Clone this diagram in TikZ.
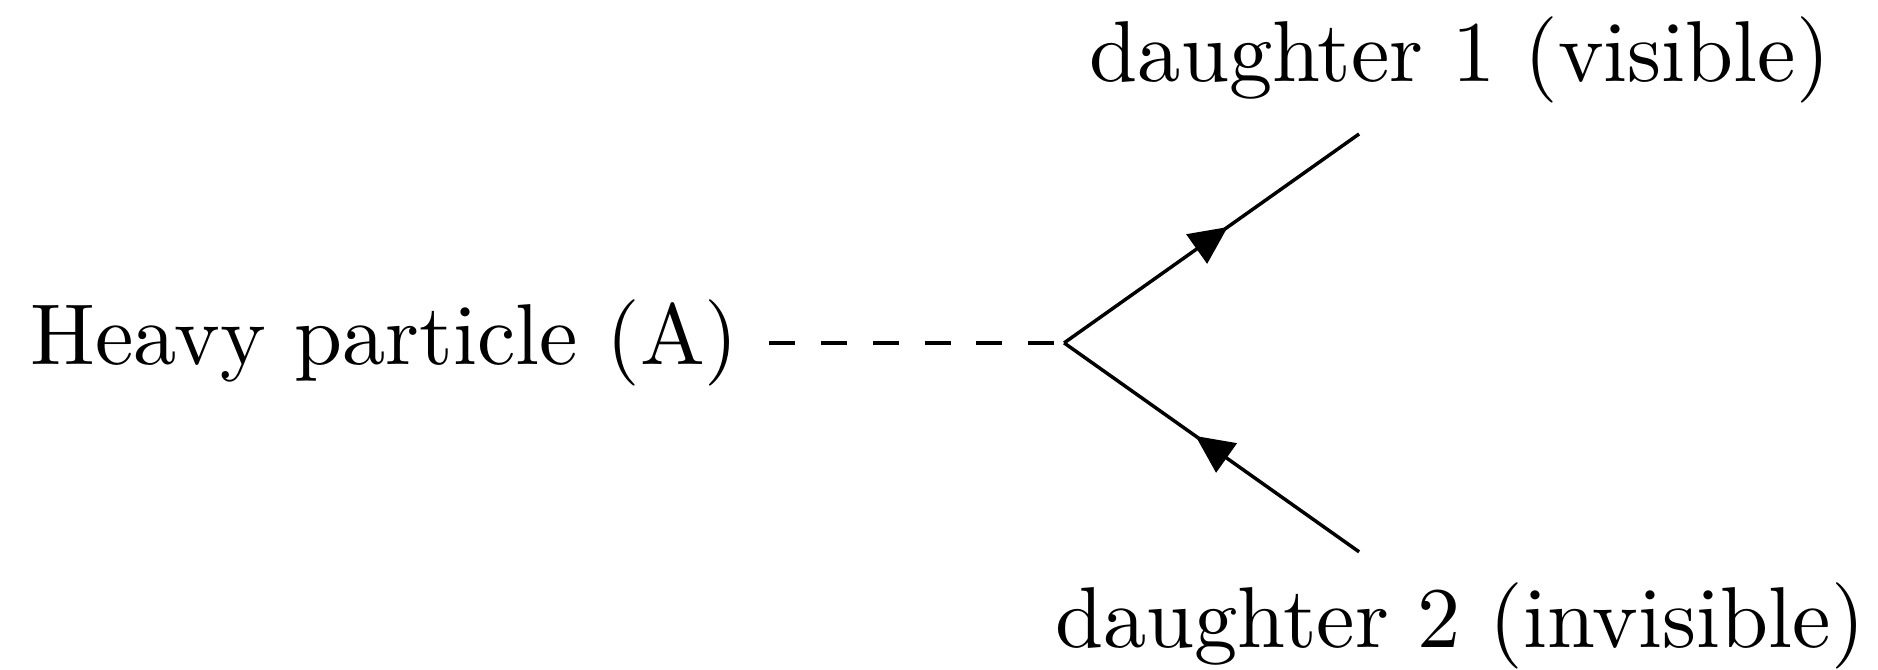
\documentclass[tikz,border=0pt]{standalone}
\usepackage{tikz}
\usetikzlibrary{arrows.meta, positioning, calc, decorations.markings}
\tikzset{
  scalar/.style={dashed},
  fermion/.style={postaction={decorate},
    decoration={markings,
      mark=at position 0.555 with {\arrow{Triangle[length=4.4pt, width=4.1pt]}}}},
  label/.style={inner sep=0.333em}
}

\begin{document}
\begin{tikzpicture}
  % ── parent particle and decay vertex ──
  \node[label] (heavy) at (0,0) {Heavy particle (A)};
  \coordinate[right=1.2cm of heavy] (vtx);
  \useasboundingbox ($(heavy.west)+(0,1.395)$) rectangle ++(7.64,-2.722);

  % ── daughter end points ──
  \coordinate (d1end) at ($(vtx)+(1.2,0.85)$);
  \coordinate (d2end) at ($(vtx)+(1.2,-0.85)$);

  % ── lines ──
  \draw[scalar] (heavy) -- (vtx);
  \draw[fermion] (vtx) -- (d1end);
  \draw[fermion] (d2end) -- (vtx);

  % ── labels ──
  \node[label, anchor=south, xshift=0.41cm] (d1) at (d1end) {daughter 1 (visible)};
  \node[label, anchor=north, xshift=0.41cm] (d2) at (d2end) {daughter 2 (invisible)};
\end{tikzpicture}
\end{document}
